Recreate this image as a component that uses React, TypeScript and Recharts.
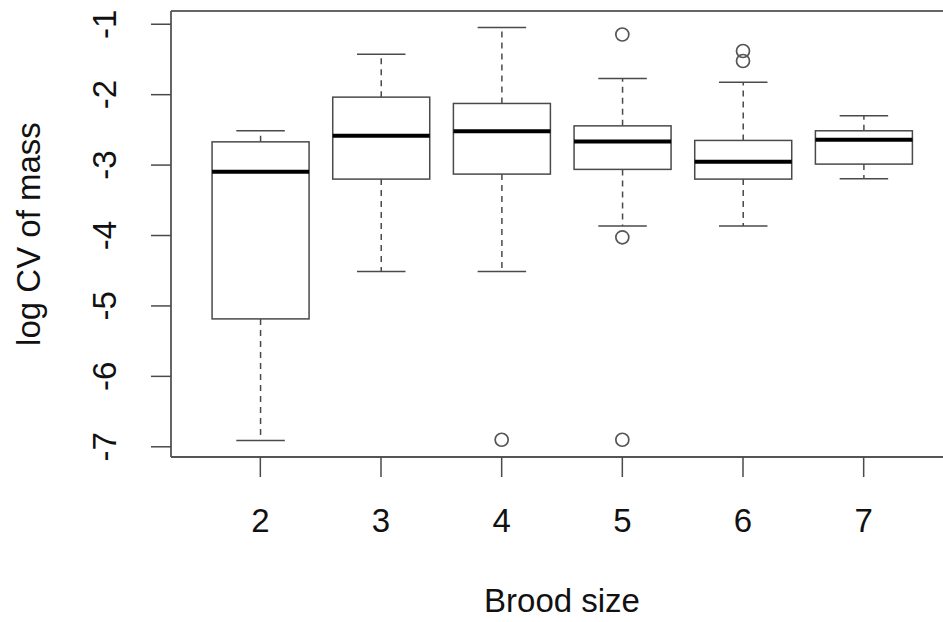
import { ComposedChart, Bar, Line, XAxis, YAxis, ReferenceLine } from "recharts";

// log CV of mass by brood size
const sizes = ["2", "3", "4", "5", "6", "7"];
const whiskerLow = [-6.91, -4.51, -4.51, -3.865, -3.865, -3.194];
const q1s = [-5.184, -3.199, -3.128, -3.061, -3.199, -2.986];
const medians = [-3.095, -2.584, -2.518, -2.664, -2.953, -2.641];
const q3s = [-2.67, -2.035, -2.125, -2.443, -2.65, -2.513];
const whiskerHigh = [-2.513, -1.426, -1.047, -1.77, -1.823, -2.3];
const outliers: number[][] = [[], [], [-6.9], [-1.146, -4.026, -6.9], [-1.38, -1.522], []];
const yTicks = [-7, -6, -5, -4, -3, -2, -1];
const yDomain = [-7.145, -0.812];

const rows = sizes.map((size, i) => ({
  size,
  lo: whiskerLow[i],
  q1: q1s[i],
  med: medians[i],
  q3: q3s[i],
  hi: whiskerHigh[i],
  out0: outliers[i][0] ?? null,
  out1: outliers[i][1] ?? null,
  out2: outliers[i][2] ?? null,
}));

const FONT = '"Liberation Sans", Arial, Helvetica, sans-serif';
const INK = "#4a4a4a";

function BoxShape(props: any) {
  const { x, y, width, height, payload } = props;
  const top = Math.min(y, y + height);
  const bottom = Math.max(y, y + height);
  const { lo, q1, med, q3, hi } = payload;
  // linear map inside the whisker range given by the bar's scale
  const toY = (v: number) => top + ((hi - v) / (hi - lo)) * (bottom - top);
  const cx = x + width / 2;
  const cap = width / 4;
  return (
    <g>
      <line x1={cx} x2={cx} y1={toY(q3)} y2={top} stroke={INK} strokeWidth={1.5} strokeDasharray="6 5" />
      <line x1={cx} x2={cx} y1={toY(q1)} y2={bottom} stroke={INK} strokeWidth={1.5} strokeDasharray="6 5" />
      <line x1={cx - cap} x2={cx + cap} y1={top} y2={top} stroke={INK} strokeWidth={1.5} />
      <line x1={cx - cap} x2={cx + cap} y1={bottom} y2={bottom} stroke={INK} strokeWidth={1.5} />
      <rect x={x} y={toY(q3)} width={width} height={toY(q1) - toY(q3)} fill="#fff" stroke={INK} strokeWidth={1.5} />
      <line x1={x} x2={x + width} y1={toY(med)} y2={toY(med)} stroke="#000" strokeWidth={4} />
    </g>
  );
}

function OutlierDot(props: any) {
  const { cx, cy, index, dataKey } = props;
  if (cx == null || cy == null || Number.isNaN(cy)) return <g key={`${dataKey}-${index}`} />;
  return (
    <circle key={`${dataKey}-${index}`} cx={cx} cy={cy} r={6.5} fill="none" stroke="#555" strokeWidth={1.7} />
  );
}

function XTick({ x, y, payload }: any) {
  return (
    <text x={x} y={y + 53} textAnchor="middle" fontFamily={FONT} fontSize={33} fill="#111">
      {payload.value}
    </text>
  );
}

function YTick({ x, y, payload }: any) {
  const bx = x - 33;
  return (
    <text x={bx} y={y} transform={`rotate(-90 ${bx} ${y})`} textAnchor="middle" fontFamily={FONT} fontSize={33} fill="#111">
      {payload.value}
    </text>
  );
}

function XTitle({ viewBox }: any) {
  return (
    <text x={viewBox.x + viewBox.width / 2} y={viewBox.y + 155} textAnchor="middle" fontFamily={FONT} fontSize={33} fill="#111">
      Brood size
    </text>
  );
}

function YTitle({ viewBox }: any) {
  const cy = viewBox.y + viewBox.height / 2;
  return (
    <text x={40} y={cy} transform={`rotate(-90 40 ${cy})`} textAnchor="middle" fontFamily={FONT} fontSize={33} fill="#111">
      log CV of mass
    </text>
  );
}

export default function App() {
  return (
    <div style={{ position: "absolute", left: 0, top: 0, width: 943, height: 622, overflow: "hidden", background: "#fff" }}>
      <ComposedChart width={953} height={622} data={rows} margin={{ top: 11, right: 0, bottom: 0, left: 0 }} barCategoryGap="10%">
        <XAxis
          dataKey="size"
          height={165}
          padding={{ left: 29, right: 29 }}
          tickSize={20}
          tick={<XTick />}
          tickLine={{ stroke: INK, strokeWidth: 1.5 }}
          axisLine={{ stroke: "#555", strokeWidth: 1.8 }}
          label={{ content: <XTitle /> }}
        />
        <YAxis
          type="number"
          domain={yDomain}
          allowDataOverflow
          ticks={yTicks}
          interval={0}
          width={171}
          tickSize={20}
          tick={<YTick />}
          tickLine={{ stroke: INK, strokeWidth: 1.5 }}
          axisLine={{ stroke: "#555", strokeWidth: 1.8 }}
          label={{ content: <YTitle /> }}
        />
        {/* top edge of the plot frame */}
        <ReferenceLine y={yDomain[1]} stroke="#666" strokeWidth={1.8} ifOverflow="visible" />
        <Bar dataKey={(d: any) => [d.lo, d.hi]} shape={<BoxShape />} isAnimationActive={false} />
        {["out0", "out1", "out2"].map((k) => (
          <Line key={k} dataKey={k} stroke="none" dot={OutlierDot} activeDot={false} isAnimationActive={false} />
        ))}
      </ComposedChart>
    </div>
  );
}
